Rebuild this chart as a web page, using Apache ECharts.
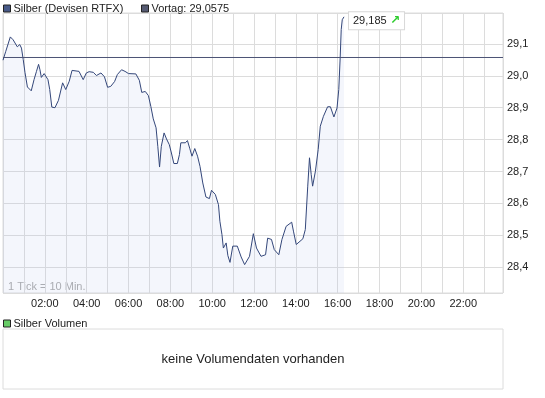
<!DOCTYPE html>
<html>
<head>
<meta charset="utf-8">
<script src="https://cdn.jsdelivr.net/npm/echarts@6/dist/echarts.min.js"></script>
<style>
html, body { margin: 0; padding: 0; background: #fff; }
#chart { width: 545px; height: 398px; }
</style>
</head>
<body>
<div id="chart"></div>
<script>
// Minuten seit 00:00
const times = [
  0, 8, 21, 29, 41, 48, 53, 58, 63, 70,
  81, 89, 96, 102, 106, 110, 118, 129, 134, 140,
  149, 159, 171, 180, 190, 198, 218, 230, 239, 247,
  259, 268, 281, 291, 300, 309, 320, 328, 340, 350,
  360, 381, 391, 398, 408, 417, 424, 431, 439, 444,
  449, 454, 462, 469, 477, 483, 490, 500, 506, 510,
  523, 529, 536, 542, 550, 558, 565, 573, 582, 592,
  598, 609, 618, 622, 628, 632, 640, 645, 651, 659,
  672, 683, 693, 707, 718, 727, 740, 753, 759, 770,
  778, 791, 800, 812, 828, 833, 841, 860, 867, 874,
  879, 884, 888, 896, 904, 910, 919, 931, 939, 949,
  958, 963, 967, 970, 973, 978
];
const prices = [
  29.049, 29.077, 29.122, 29.113, 29.091, 29.098, 29.087, 29.051, 29.011, 28.965,
  28.953, 28.988, 29.014, 29.036, 29.019, 28.995, 29.007, 28.988, 28.957, 28.902,
  28.900, 28.923, 28.978, 28.957, 28.983, 29.017, 29.014, 28.988, 29.009, 29.013,
  29.011, 29.001, 29.009, 28.997, 28.964, 28.967, 28.982, 29.004, 29.019, 29.014,
  29.007, 29.006, 28.986, 28.948, 28.951, 28.938, 28.904, 28.865, 28.837, 28.779,
  28.714, 28.779, 28.821, 28.802, 28.784, 28.758, 28.725, 28.725, 28.753, 28.790,
  28.790, 28.797, 28.771, 28.748, 28.772, 28.748, 28.716, 28.664, 28.620, 28.615,
  28.641, 28.628, 28.596, 28.544, 28.502, 28.460, 28.476, 28.436, 28.415, 28.466,
  28.466, 28.432, 28.408, 28.434, 28.505, 28.460, 28.434, 28.439, 28.491, 28.487,
  28.455, 28.439, 28.487, 28.528, 28.541, 28.513, 28.471, 28.489, 28.518, 28.654,
  28.743, 28.690, 28.654, 28.701, 28.769, 28.842, 28.873, 28.903, 28.903, 28.871,
  28.899, 28.957, 29.056, 29.145, 29.176, 29.185
];
const vortag = 29.0575;
const dayEnd = 1434;
const yMin = 28.319;
const yMax = 29.197;

const font = '"Liberation Sans", Arial, sans-serif';
const gridColor = '#dcdcdc';

const chart = echarts.init(document.getElementById('chart'), null, { renderer: 'canvas' });

const linePoints = times.map((t, i) => [t, prices[i]]);
const lastIdx = times.length - 1;

const legendBase = {
  icon: 'rect',
  itemWidth: 7,
  itemHeight: 7,
  itemGap: 0,
  selectedMode: false,
  padding: 0,
  itemStyle: { borderColor: '#222', borderWidth: 1 },
  textStyle: { color: '#222', fontSize: 11, fontFamily: font, padding: [0, 0, 0, -2] }
};

const option = {
  animation: false,
  backgroundColor: '#fff',
  legend: [
    Object.assign({}, legendBase, { data: ['Silber (Devisen RTFX)'], left: 3, top: 3 }),
    Object.assign({}, legendBase, { data: ['Vortag: 29,0575'], left: 141, top: 3 }),
    Object.assign({}, legendBase, { data: ['Silber Volumen'], left: 3, top: 318 })
  ],
  grid: [
    { left: 3, top: 13, width: 500, height: 280, show: true, borderColor: gridColor, borderWidth: 1 },
    { left: 3, top: 329, width: 500, height: 60, show: true, borderColor: gridColor, borderWidth: 1 }
  ],
  xAxis: [
    {
      type: 'value',
      gridIndex: 0,
      min: 0,
      max: dayEnd,
      splitNumber: 24,
      minInterval: 60,
      maxInterval: 60,
      axisLine: { show: false },
      axisTick: { show: false },
      splitLine: { lineStyle: { color: gridColor, width: 1 } },
      axisLabel: {
        margin: 5,
        color: '#222',
        fontSize: 11,
        fontFamily: font,
        formatter: v => (v > 0 && v % 120 === 0) ? String(v / 60).padStart(2, '0') + ':00' : ''
      }
    },
    { type: 'value', gridIndex: 1, min: 0, max: dayEnd, show: false }
  ],
  yAxis: [
    {
      type: 'value',
      gridIndex: 0,
      position: 'right',
      min: yMin,
      max: yMax,
      splitNumber: 9,
      minInterval: 0.1,
      maxInterval: 0.1,
      axisLine: { show: false },
      axisTick: { show: false },
      splitLine: { lineStyle: { color: gridColor, width: 1 } },
      axisLabel: {
        margin: 4,
        color: '#222',
        fontSize: 11,
        fontFamily: font,
        formatter: v => {
          const r = Math.round(v * 10) / 10;
          if (Math.abs(r - v) > 0.001) return '';
          return r.toFixed(1).replace('.', ',');
        }
      }
    },
    { type: 'value', gridIndex: 1, min: 0, max: 1, show: false }
  ],
  series: [
    {
      name: 'Silber (Devisen RTFX)',
      type: 'line',
      xAxisIndex: 0,
      yAxisIndex: 0,
      data: linePoints,
      symbol: 'none',
      color: '#485a88',
      lineStyle: { color: '#34477a', width: 1 },
      areaStyle: { color: 'rgba(180,195,235,0.22)', origin: 'start' },
      markPoint: {
        symbol: 'circle',
        symbolSize: 2,
        itemStyle: { color: 'rgba(0,0,0,0)' },
        data: [{ coord: [times[lastIdx], prices[lastIdx]], value: prices[lastIdx] }],
        label: {
          show: true,
          position: 'right',
          distance: 4,
          offset: [0, 4],
          backgroundColor: '#fff',
          borderColor: '#d8d8d8',
          borderWidth: 1,
          padding: [3, 4, 2, 4],
          formatter: p => '{v|' + p.value.toFixed(3).replace('.', ',') + '} {a|↗}',
          rich: {
            v: { color: '#222', fontSize: 11, fontFamily: font },
            a: { color: '#2ecc2e', fontSize: 12, fontWeight: 'bold', fontFamily: '"DejaVu Sans", sans-serif' }
          }
        }
      }
    },
    {
      name: 'Vortag: 29,0575',
      type: 'line',
      xAxisIndex: 0,
      yAxisIndex: 0,
      data: [[0, vortag], [dayEnd, vortag]],
      symbol: 'none',
      color: '#555a72',
      lineStyle: { color: '#4b5275', width: 1 },
      z: 3
    },
    {
      name: 'Silber Volumen',
      type: 'bar',
      xAxisIndex: 1,
      yAxisIndex: 1,
      data: [],
      color: '#66cc66'
    }
  ],
  graphic: [
    {
      type: 'text',
      left: 8,
      top: 281,
      style: { text: '1 Tick = 10 Min.', fill: '#a8a8a8', font: '11px ' + font }
    },
    {
      type: 'text',
      style: {
        text: 'keine Volumendaten vorhanden',
        x: 253,
        y: 359,
        align: 'center',
        verticalAlign: 'middle',
        fill: '#222',
        font: '13px ' + font
      }
    }
  ]
};

chart.setOption(option);
</script>
</body>
</html>
